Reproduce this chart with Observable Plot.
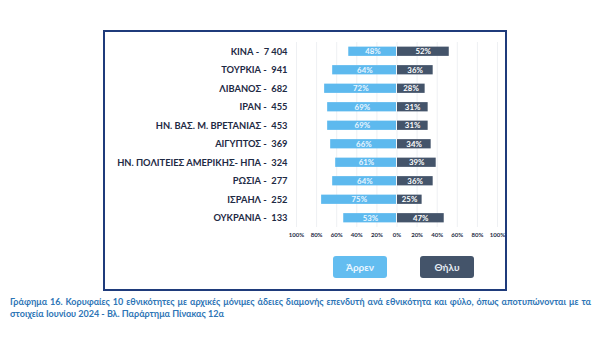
<!DOCTYPE html>
<html><head><meta charset="utf-8">
<script src="https://cdn.jsdelivr.net/npm/d3@7"></script>
<script src="https://cdn.jsdelivr.net/npm/@observablehq/plot@0.6"></script>
<style>
html,body{margin:0;padding:0;background:#fff;width:600px;height:352px;overflow:hidden;font-family:Lato,"Open Sans",sans-serif;}
#frame{position:absolute;left:103px;top:30px;width:400px;height:257px;border:2px solid #1F3B7B;}
#chart{position:absolute;left:0;top:0;}
.btn{position:absolute;top:256px;height:22px;width:54px;border-radius:3px;font-weight:700;font-size:10px;line-height:22px;text-align:center;}
#cap{position:absolute;left:10px;top:296px;width:581px;color:#2E75B6;font-size:9px;font-weight:700;line-height:12px;}
#cap .l1{text-align:justify;text-align-last:justify;white-space:nowrap;}
</style></head>
<body>
<div id="frame"></div>
<div id="chart"></div>
<div class="btn" style="left:333px;background:#63BDF0;color:#EAF6FF;">Άρρεν</div>
<div class="btn" style="left:420px;background:#44546A;color:#E6ECF4;">Θήλυ</div>
<div id="cap"><div class="l1">Γράφημα 16. Κορυφαίες 10 εθνικότητες με αρχικές μόνιμες άδειες διαμονής επενδυτή ανά εθνικότητα και φύλο, όπως αποτυπώνονται με τα</div><div>στοιχεία Ιουνίου 2024 - Βλ. Παράρτημα Πίνακας 12α</div></div>
<script>
const countries = ["ΚΙΝΑ", "ΤΟΥΡΚΙΑ", "ΛΙΒΑΝΟΣ", "ΙΡΑΝ", "ΗΝ. ΒΑΣ. Μ. ΒΡΕΤΑΝΙΑΣ", "ΑΙΓΥΠΤΟΣ", "ΗΝ. ΠΟΛΙΤΕΙΕΣ ΑΜΕΡΙΚΗΣ- ΗΠΑ", "ΡΩΣΙΑ", "ΙΣΡΑΗΛ", "ΟΥΚΡΑΝΙΑ"];
const totals = ["7 404", "941", "682", "455", "453", "369", "324", "277", "252", "133"];
const male = [48, 64, 72, 69, 69, 66, 61, 64, 75, 53];
const female = [52, 36, 28, 31, 31, 34, 39, 36, 25, 47];
const ticks = [-100, -80, -60, -40, -20, 0, 20, 40, 60, 80, 100];

const labels = countries.map((c, i) => c + " -  " + totals[i]);
const rows = labels.map((l, i) => ({label: l, male: male[i], female: female[i]}));

const chart = Plot.plot({
  width: 600,
  height: 242,
  marginLeft: 296,
  marginRight: 103,
  marginTop: 42,
  marginBottom: 15,
  style: {fontFamily: "Lato, sans-serif", background: "transparent"},
  x: {domain: [-100, 100]},
  y: {domain: labels, padding: 0.5, paddingOuter: 0.25, round: false},
  marks: [
    Plot.ruleX(ticks, {x: d => d, stroke: "#EEF0F3", strokeWidth: 1}),
    Plot.barX(rows, {y: "label", x1: d => -d.male, x2: 0, fill: "#5DB9EE", insetRight: 0.5}),
    Plot.barX(rows, {y: "label", x1: 0, x2: "female", fill: "#44546A", insetLeft: 0.5}),
    Plot.text(rows, {y: "label", x: d => -d.male / 2, text: d => d.male + "%", fill: "#EAF6FF", fontSize: 7.8, fontWeight: 700}),
    Plot.text(rows, {y: "label", x: d => d.female / 2, text: d => d.female + "%", fill: "#FFFFFF", fontSize: 7.8, fontWeight: 700}),
    Plot.axisY({tickSize: 0, tickPadding: 9, fontSize: 9.3, fontWeight: 700, color: "#1E2A44", label: null}),
    Plot.axisX({ticks: ticks, tickSize: 0, tickPadding: 5, tickFormat: d => Math.abs(d) + "%", fontSize: 6, fontWeight: 700, color: "#1E2A44", label: null})
  ]
});
document.getElementById("chart").appendChild(chart);
</script>
</body></html>
